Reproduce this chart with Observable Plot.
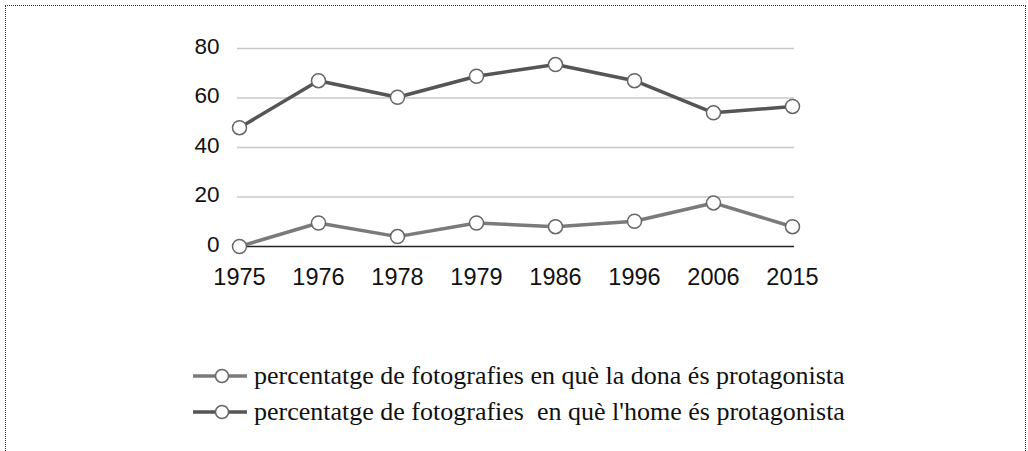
<!DOCTYPE html>
<html>
<head>
<meta charset="utf-8">
<script src="https://cdn.jsdelivr.net/npm/d3@7"></script>
<script src="https://cdn.jsdelivr.net/npm/@observablehq/plot@0.6"></script>
<style>
  html, body { margin: 0; padding: 0; background: #fff; width: 1028px; height: 451px; overflow: hidden; }
  #frame { position: absolute; left: 5px; top: 5px; width: 1021px; height: 470px; border: 1px dotted #333; box-sizing: border-box; }
  #chart { position: absolute; left: 0; top: 0; }
  .leg { position: absolute; left: 192px; height: 30px; display: flex; align-items: center; white-space: pre;
         font-family: "Liberation Serif", "Times New Roman", serif; font-size: 26px; color: #111; }
  .leg svg { margin-right: 6px; }
</style>
</head>
<body>
<div id="frame"></div>
<div id="chart"></div>
<div id="legend"></div>
<script>
const years = ["1975", "1976", "1978", "1979", "1986", "1996", "2006", "2015"];
const dona = [0, 9.5, 4, 9.5, 8, 10.2, 17.6, 8];
const home = [48, 67, 60.3, 68.8, 73.5, 67, 54, 56.6];
const yTicks = [0, 20, 40, 60, 80];
const seriesNames = [
  "percentatge de fotografies en què la dona és protagonista",
  "percentatge de fotografies  en què l'home és protagonista"
];
const seriesColors = ["#7a7a7a", "#555555"];

const rows = [];
years.forEach((y, i) => {
  rows.push({year: y, value: dona[i], series: seriesNames[0]});
  rows.push({year: y, value: home[i], series: seriesNames[1]});
});

const chart = Plot.plot({
  width: 1028,
  height: 300,
  marginLeft: 237,
  marginRight: 234,
  marginTop: 48,
  marginBottom: 54,
  style: {fontFamily: "'Liberation Sans', Arial, sans-serif", fontSize: "23px", color: "#111", background: "transparent"},
  x: {type: "point", domain: years, padding: 0, label: null},
  y: {domain: [0, 80], label: null},
  color: {domain: seriesNames, range: seriesColors},
  marks: [
    Plot.ruleY(yTicks.filter(d => d > 0), {stroke: "#c8c8c8", strokeWidth: 1.5, strokeOpacity: 1}),
    Plot.ruleY([0], {stroke: "#222", strokeWidth: 1.5}),
    Plot.axisY({ticks: yTicks, tickSize: 0, tickPadding: 18, fontSize: 22.5, dy: -2, label: null, tickFormat: d => String(d)}),
    Plot.axisX({tickSize: 0, tickPadding: 22, fontSize: 23.5, label: null}),
    Plot.line(rows, {x: "year", y: "value", z: "series", stroke: "series", strokeWidth: 3.5}),
    Plot.dot(rows, {x: "year", y: "value", r: 7, fill: "white", stroke: "#666", strokeWidth: 1.5})
  ]
});
document.getElementById("chart").appendChild(chart);

const legend = document.getElementById("legend");
const tops = [361, 397];
seriesNames.forEach((name, i) => {
  const row = document.createElement("div");
  row.className = "leg";
  row.style.top = tops[i] + "px";
  row.innerHTML = `<svg width="56" height="20"><line x1="1" x2="55" y1="10" y2="10" stroke="${seriesColors[i]}" stroke-width="3.5"/><circle cx="30" cy="10" r="6.5" fill="white" stroke="#666" stroke-width="1.5"/></svg>`;
  const span = document.createElement("span");
  span.textContent = name;
  row.appendChild(span);
  legend.appendChild(row);
});
</script>
</body>
</html>
